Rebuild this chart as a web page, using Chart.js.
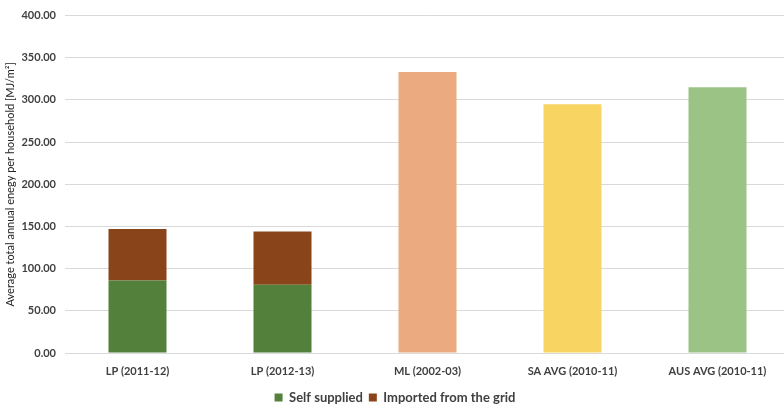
<!DOCTYPE html>
<html lang="en">
<head>
    <meta charset="UTF-8">
    <script src="https://cdn.jsdelivr.net/npm/chart.js"></script>
    <title>Household energy</title>
</head>
<style>
    body {
        margin: 0;
        overflow: hidden;
        background: #fff;
    }
    .container {
        position: relative;
        width: 790px;
        height: 405px;
    }
</style>
<body>
    <div class="container">
      <canvas id="myChart"></canvas>
    </div>
</body>
<script>
  const categories = ['LP (2011-12)', 'LP (2012-13)', 'ML (2002-03)', 'SA AVG (2010-11)', 'AUS AVG (2010-11)'];
  const selfSupplied = [86, 81, null, null, null];
  const importedGrid = [61, 63, null, null, null];
  const benchmarks = [null, null, 333, 295, 315];
  const benchmarkColors = ['#000', '#000', '#ebaa80', '#f8d462', '#9cc386'];

  const textColor = '#404040';
  const fontFamily = 'Lato, "Open Sans", sans-serif';

  const data = {
    labels: categories,
    datasets: [{
      label: 'Self supplied',
      backgroundColor: '#53803a',
      data: selfSupplied,
    },
    {
      label: 'Imported from the grid',
      backgroundColor: '#8a4419',
      data: importedGrid,
    },
    {
      label: 'benchmark',
      backgroundColor: benchmarkColors,
      data: benchmarks,
    }]
  };

  const config = {
    type: 'bar',
    data: data,
    options: {
      responsive: true,
      maintainAspectRatio: false,
      animation: false,
      datasets: {
        bar: { categoryPercentage: 1, barPercentage: 0.4 }
      },
      layout: { padding: { top: 7, left: 0, right: 0, bottom: -9 } },
      plugins: {
        tooltip: { enabled: false },
        legend: {
          position: 'bottom',
          labels: {
            filter: (item) => item.datasetIndex < 2,
            boxWidth: 8,
            boxHeight: 8,
            padding: 6,
            color: textColor,
            font: { family: fontFamily, size: 13, weight: 'bold' }
          }
        }
      },
      scales: {
        x: {
          stacked: true,
          afterFit: (scale) => { scale.height = 32; },
          grid: { display: false, drawTicks: false },
          border: { display: false },
          ticks: {
            color: textColor,
            padding: 12,
            font: { family: fontFamily, size: 11, weight: 'bold' }
          }
        },
        y: {
          stacked: true,
          min: 0,
          max: 400,
          afterFit: (scale) => { scale.width = 65; },
          grid: { color: '#d9d9d9', drawTicks: false },
          border: { display: false },
          ticks: {
            stepSize: 50,
            padding: 9,
            color: textColor,
            font: { family: fontFamily, size: 11, weight: 'bold' },
            callback: (v) => v.toFixed(2)
          },
          title: {
            display: true,
            text: 'Average total annual enegy per household [MJ/m²]',
            color: '#222',
            padding: { top: 4, bottom: 0 },
            font: { family: fontFamily, size: 11 }
          }
        }
      }
    }
  };

  const myChart = new Chart(
    document.getElementById('myChart'),
    config
  );
</script>
</html>
